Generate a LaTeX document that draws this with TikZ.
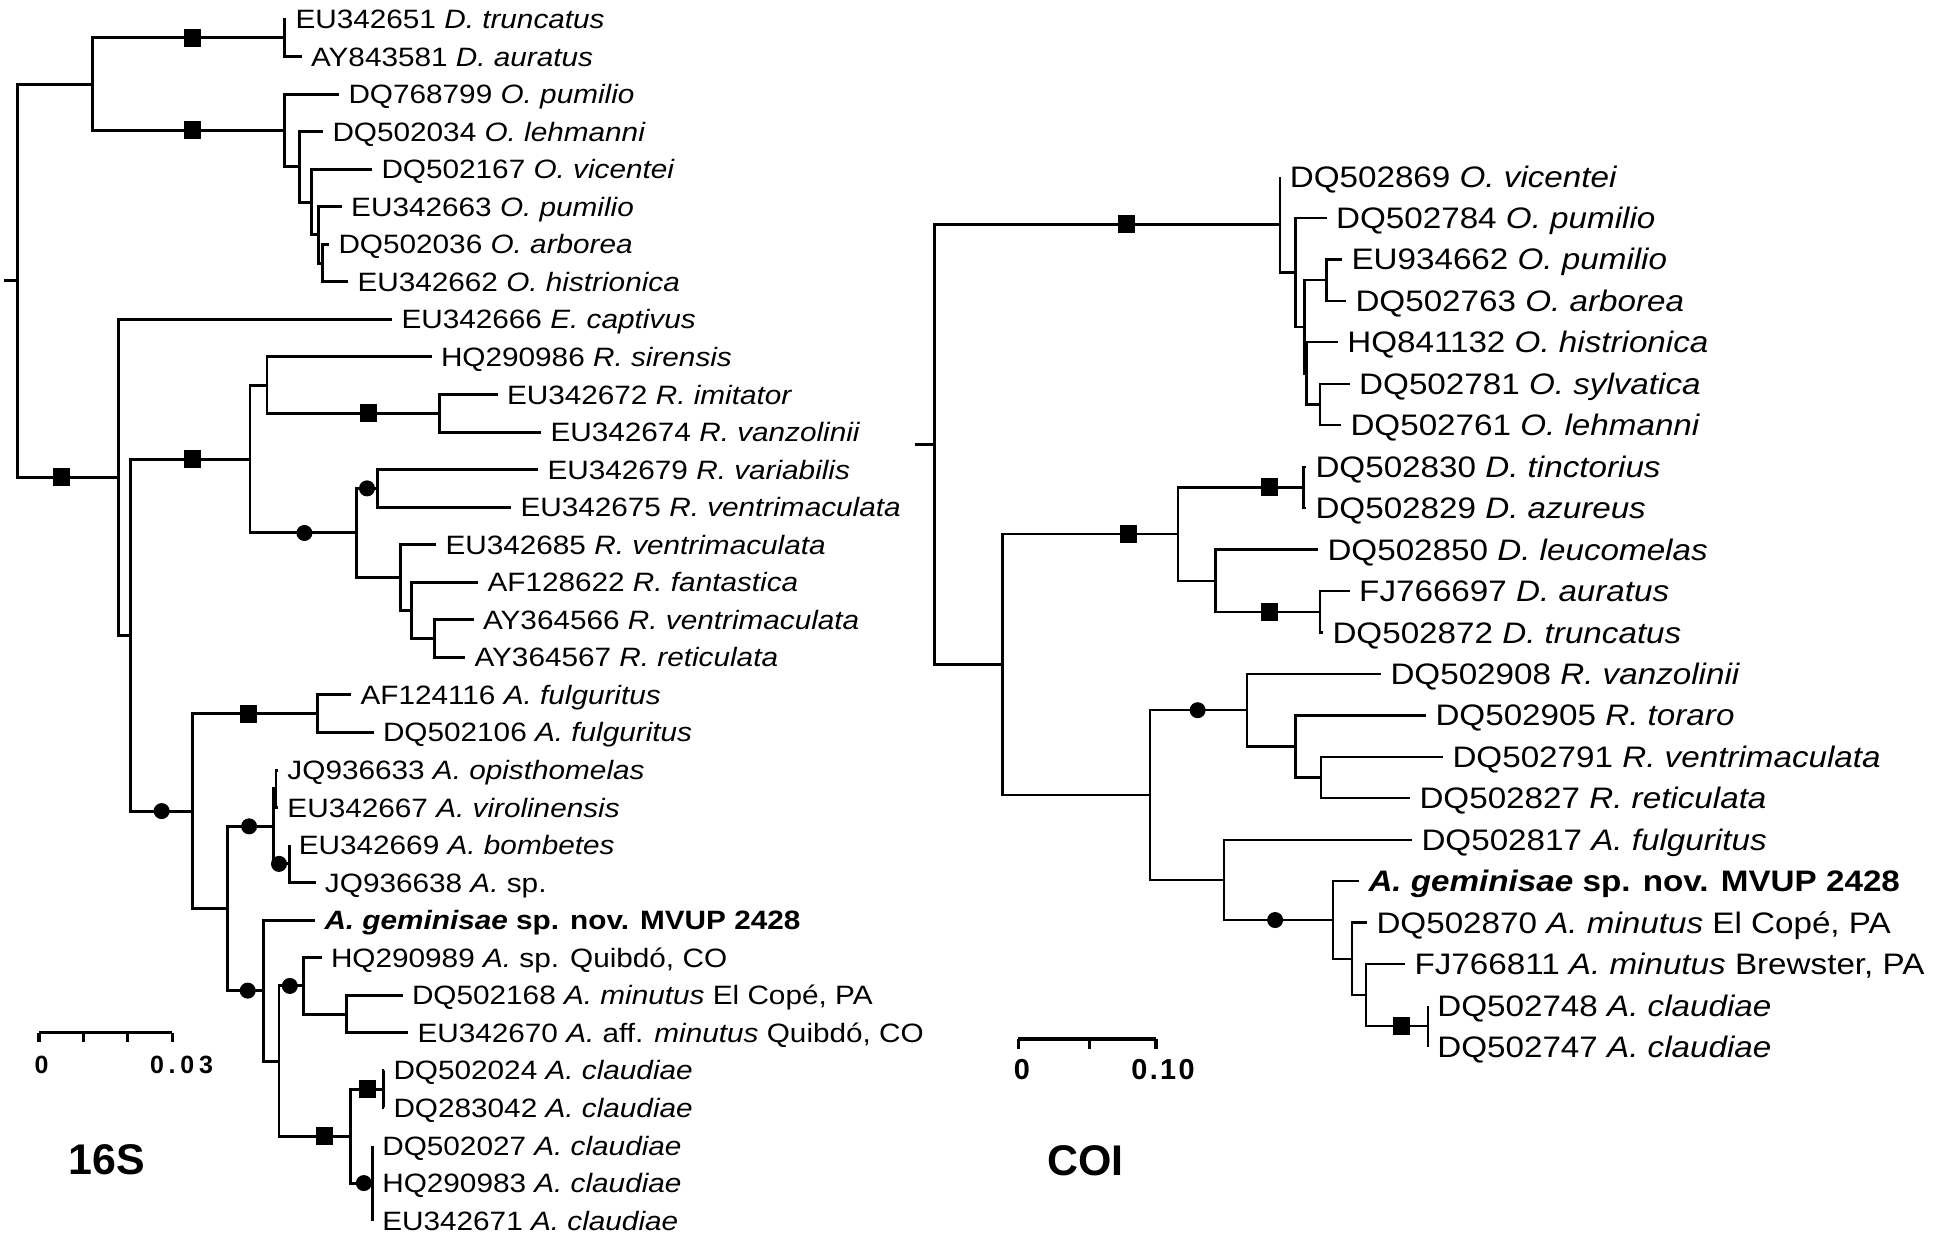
\documentclass[tikz,border=0pt]{standalone}
\usepackage{fontspec}
\setmainfont{Liberation Sans}
\newfontfamily\treefont{Liberation Sans}[FakeStretch=1.12]
\newfontfamily\barfontL{Liberation Sans}[LetterSpace=19]
\newfontfamily\barfontR{Liberation Sans}[LetterSpace=8]

\begin{document}
\begin{tikzpicture}[x=0.01cm, y=-0.01cm,
  taxL/.style={anchor=west, inner xsep=2.5pt, inner ysep=0pt, text height=5.4pt, text depth=0pt, font=\treefont\fontsize{7.55}{9}\selectfont},
  taxR/.style={taxL, text height=6pt, font=\treefont\fontsize{8.43}{10}\selectfont},
  sqm/.style={fill, rectangle, minimum width=0.17cm, minimum height=0.18cm, inner sep=0pt},
  dotm/.style={fill, circle, minimum size=0.16cm, inner sep=0pt},
  ttl/.style={inner sep=0pt, font=\bfseries\fontsize{12.2}{14}\selectfont}]
\useasboundingbox (0,0) rectangle (1937,1242);

% 16S
\begin{scope}[line width=0.85pt]
  \coordinate (rL) at (3.6,280.68);
  \coordinate (nR) at (17.9,280.68);
  \coordinate (nA) at (92.9,84.13);
  \coordinate (nDa) at (284.4,37.78);
  \coordinate (nOa) at (284.4,130.48);
  \coordinate (nOb) at (299.1,166.85);
  \coordinate (nOc) at (311.2,202.06);
  \coordinate (nOd) at (318.3,234.91);
  \coordinate (nOe) at (322.3,263.08);
  \coordinate (nB) at (118.3,477.23);
  \coordinate (nC) at (130.4,635.06);
  \coordinate (nD) at (250,459.04);
  \coordinate (nE) at (267,385.11);
  \coordinate (nF) at (439.7,413.28);
  \coordinate (nG) at (356.3,532.97);
  \coordinate (nH) at (377.2,488.38);
  \coordinate (nI) at (400.9,577.56);
  \coordinate (nJ) at (411.6,610.41);
  \coordinate (nK) at (434,638.58);
  \coordinate (nL) at (192.9,811.08);
  \coordinate (nM) at (317,713.68);
  \coordinate (nN) at (227.7,908.47);
  \coordinate (nO) at (273.2,826.33);
  \coordinate (nO2) at (276,788.78);
  \coordinate (nP) at (289.3,863.88);
  \coordinate (nQ) at (263.4,990.61);
  \coordinate (nT) at (279,1061.02);
  \coordinate (nS) at (303.6,985.92);
  \coordinate (nU) at (346,1014.08);
  \coordinate (nV) at (350.4,1136.12);
  \coordinate (nW) at (383,1089.18);
  \coordinate (nX) at (372.8,1183.05);

  \coordinate (l1) at (286,19);
  \coordinate (l2) at (301.5,56.55);
  \coordinate (l3) at (339,94.1);
  \coordinate (l4) at (323,131.65);
  \coordinate (l5) at (372,169.2);
  \coordinate (l6) at (341.7,206.75);
  \coordinate (l7) at (329,244.3);
  \coordinate (l8) at (348,281.85);
  \coordinate (l9) at (392,319.4);
  \coordinate (l10) at (431.5,356.95);
  \coordinate (l11) at (497.5,394.5);
  \coordinate (l12) at (541,432.05);
  \coordinate (l13) at (538,469.6);
  \coordinate (l14) at (511,507.15);
  \coordinate (l15) at (436,544.7);
  \coordinate (l16) at (478,582.25);
  \coordinate (l17) at (473.5,619.8);
  \coordinate (l18) at (465,657.35);
  \coordinate (l19) at (351,694.9);
  \coordinate (l20) at (373.5,732.45);
  \coordinate (l21) at (278,770);
  \coordinate (l22) at (278,807.55);
  \coordinate (l23) at (289.3,845.1);
  \coordinate (l24) at (315.5,882.65);
  \coordinate (l25) at (315,920.2);
  \coordinate (l26) at (321.5,957.75);
  \coordinate (l27) at (402.5,995.3);
  \coordinate (l28) at (408,1032.85);
  \coordinate (l29) at (384,1070.4);
  \coordinate (l30) at (384,1107.95);
  \coordinate (l31) at (372.8,1145.5);
  \coordinate (l32) at (372.8,1183.05);
  \coordinate (l33) at (372.8,1220.6);

  \draw (rL) -- (nR);
  \foreach \a/\b in {nR/nA, nDa/l1, nDa/l2, nOa/l3, nOa/nOb, nOb/l4, nOb/nOc, nOc/l5, nOc/nOd,
      nOd/l6, nOd/nOe, nOe/l7, nOe/l8, nB/l9, nB/nC, nD/nE, nE/l10, nF/l11, nF/l12, nG/nI,
      nH/l13, nH/l14, nI/l15, nI/nJ, nJ/l16, nJ/nK, nK/l17, nK/l18, nL/nN, nM/l19, nM/l20,
      nO/nO2, nO2/l21, nO2/l22, nP/l23, nP/l24, nQ/l25, nQ/nT, nS/l26, nS/nU, nU/l27, nU/l28,
      nW/l29, nW/l30, nX/l31, nX/l32, nX/l33}
    \draw (\a) |- (\b);
  \draw (nR) |- node[sqm, pos=.718] (q1) {} (nB);
  \draw (nA) |- node[sqm, pos=.761] (q2) {} (nDa);
  \draw (nA) |- node[sqm, pos=.761] (q3) {} (nOa);
  \draw (nC) |- node[sqm, pos=.761] (q4) {} (nD);
  \draw (nE) |- node[sqm, pos=.793] (q5) {} (nF);
  \draw (nL) |- node[sqm, pos=.723] (q6) {} (nM);
  \draw (nT) |- node[sqm, pos=.822] (q7) {} (nV);
  \draw (nV) |- node[sqm, pos=.755] (q8) {} (nW);
  \draw (nD) |- node[dotm, pos=.756] (c1) {} (nG);
  \draw (nG) |- node[dotm, pos=.756] (c2) {} (nH);
  \draw (nC) |- node[dotm, pos=.75] (c3) {} (nL);
  \draw (nN) |- node[dotm, pos=.735] (c4) {} (nO);
  \draw (nO) |- node[dotm, pos=.68] (c5) {} (nP);
  \draw (nN) |- node[dotm, pos=.78] (c6) {} (nQ);
  \draw (nT) |- node[dotm, pos=.72] (c7) {} (nS);
  \draw (nV) |- node[dotm, pos=.8] (c8) {} (nX);
\end{scope}

\node[taxL] (t1) at (l1) {EU342651 \textit{D. truncatus}};
\node[taxL] (t2) at (l2) {AY843581 \textit{D. auratus}};
\node[taxL] (t3) at (l3) {DQ768799 \textit{O. pumilio}};
\node[taxL] (t4) at (l4) {DQ502034 \textit{O. lehmanni}};
\node[taxL] (t5) at (l5) {DQ502167 \textit{O. vicentei}};
\node[taxL] (t6) at (l6) {EU342663 \textit{O. pumilio}};
\node[taxL] (t7) at (l7) {DQ502036 \textit{O. arborea}};
\node[taxL] (t8) at (l8) {EU342662 \textit{O. histrionica}};
\node[taxL] (t9) at (l9) {EU342666 \textit{E. captivus}};
\node[taxL] (t10) at (l10) {HQ290986 \textit{R. sirensis}};
\node[taxL] (t11) at (l11) {EU342672 \textit{R. imitator}};
\node[taxL] (t12) at (l12) {EU342674 \textit{R. vanzolinii}};
\node[taxL] (t13) at (l13) {EU342679 \textit{R. variabilis}};
\node[taxL] (t14) at (l14) {EU342675 \textit{R. ventrimaculata}};
\node[taxL] (t15) at (l15) {EU342685 \textit{R. ventrimaculata}};
\node[taxL] (t16) at (l16) {AF128622 \textit{R. fantastica}};
\node[taxL] (t17) at (l17) {AY364566 \textit{R. ventrimaculata}};
\node[taxL] (t18) at (l18) {AY364567 \textit{R. reticulata}};
\node[taxL] (t19) at (l19) {AF124116 \textit{A. fulguritus}};
\node[taxL] (t20) at (l20) {DQ502106 \textit{A. fulguritus}};
\node[taxL] (t21) at (l21) {JQ936633 \textit{A. opisthomelas}};
\node[taxL] (t22) at (l22) {EU342667 \textit{A. virolinensis}};
\node[taxL] (t23) at (l23) {EU342669 \textit{A. bombetes}};
\node[taxL] (t24) at (l24) {JQ936638 \textit{A.} sp.};
\node[taxL] (t25) at (l25) {\textbf{\textit{A. geminisae} sp. nov. MVUP 2428}};
\node[taxL] (t26) at (l26) {HQ290989 \textit{A.} sp. Quibdó, CO};
\node[taxL] (t27) at (l27) {DQ502168 \textit{A. minutus} El Copé, PA};
\node[taxL] (t28) at (l28) {EU342670 \textit{A.} aff. \textit{minutus} Quibdó, CO};
\node[taxL] (t29) at (l29) {DQ502024 \textit{A. claudiae}};
\node[taxL] (t30) at (l30) {DQ283042 \textit{A. claudiae}};
\node[taxL] (t31) at (l31) {DQ502027 \textit{A. claudiae}};
\node[taxL] (t32) at (l32) {HQ290983 \textit{A. claudiae}};
\node[taxL] (t33) at (l33) {EU342671 \textit{A. claudiae}};

\draw[line width=1pt] (39,1032.7) -- (172.3,1032.7);
\foreach \x in {39,83.3,127.7,172.3}
  \draw[line width=1pt] (\x,1032.7) -- (\x,1042.3);
\node[inner sep=0pt, font=\barfontL\bfseries\fontsize{7.1}{8}\selectfont] (sL0) at (41.5,1065) {0};
\node[inner sep=0pt, font=\barfontL\bfseries\fontsize{7.1}{8}\selectfont] (sL1) at (181.5,1065) {0.03};
\node[ttl] (g16) at (107,1160) {16S};

% COI
\begin{scope}[line width=0.65pt]
  \coordinate (rR) at (914.5,444.48);
  \coordinate (mRoot) at (934.4,444.48);
  \coordinate (mO) at (1280.3,224.43);
  \coordinate (mOa) at (1295.5,272.36);
  \coordinate (mOb) at (1304.5,326.76);
  \coordinate (mOc) at (1326.6,280.13);
  \coordinate (mOd) at (1306.5,373.39);
  \coordinate (mOe) at (1320,404.48);
  \coordinate (mB) at (1002.5,664.52);
  \coordinate (mD) at (1177.8,534.01);
  \coordinate (mD1) at (1303.4,487.38);
  \coordinate (mD2) at (1215.5,580.64);
  \coordinate (mD3) at (1320,611.73);
  \coordinate (mRA) at (1150,795.02);
  \coordinate (mR) at (1247.2,710.17);
  \coordinate (mR2) at (1295.5,746.44);
  \coordinate (mR3) at (1321.3,777.53);
  \coordinate (mA) at (1224,879.86);
  \coordinate (mA2) at (1333.2,920.01);
  \coordinate (mA3) at (1351.7,958.87);
  \coordinate (mA4) at (1366.3,995.14);
  \coordinate (mA5) at (1427.8,1026.23);

  \coordinate (k1) at (1280.3,176.5);
  \coordinate (k2) at (1326.6,217.95);
  \coordinate (k3) at (1342,259.4);
  \coordinate (k4) at (1346,300.85);
  \coordinate (k5) at (1337.8,342.3);
  \coordinate (k6) at (1349.7,383.75);
  \coordinate (k7) at (1341,425.2);
  \coordinate (k8) at (1306,466.65);
  \coordinate (k9) at (1306,508.1);
  \coordinate (k10) at (1318,549.55);
  \coordinate (k11) at (1349.7,591);
  \coordinate (k12) at (1323,632.45);
  \coordinate (k13) at (1381,673.9);
  \coordinate (k14) at (1426,715.35);
  \coordinate (k15) at (1443,756.8);
  \coordinate (k16) at (1410,798.25);
  \coordinate (k17) at (1412,839.7);
  \coordinate (k18) at (1359,881.15);
  \coordinate (k19) at (1367,922.6);
  \coordinate (k20) at (1405,964.05);
  \coordinate (k21) at (1427.8,1005.5);
  \coordinate (k22) at (1427.8,1046.95);

  \draw (rR) -- (mRoot);
  \foreach \a/\b in {mRoot/mB, mO/k1, mO/mOa, mOa/k2, mOa/mOb, mOb/mOc, mOb/mOd, mOc/k3, mOc/k4,
      mOd/k5, mOd/mOe, mOe/k6, mOe/k7, mB/mRA, mD1/k8, mD1/k9, mD/mD2, mD2/k10, mD3/k11, mD3/k12,
      mR/k13, mR/mR2, mR2/k14, mR2/mR3, mR3/k15, mR3/k16, mRA/mA, mA/k17, mA2/k18, mA2/mA3,
      mA3/k19, mA3/mA4, mA4/k20, mA5/k21, mA5/k22}
    \draw (\a) |- (\b);
  \draw (mRoot) |- node[sqm, pos=.778] (p1) {} (mO);
  \draw (mB) |- node[sqm, pos=.859] (p2) {} (mD);
  \draw (mD) |- node[sqm, pos=.863] (p3) {} (mD1);
  \draw (mD2) |- node[sqm, pos=.756] (p4) {} (mD3);
  \draw (mA4) |- node[sqm, pos=.785] (p5) {} (mA5);
  \draw (mRA) |- node[dotm, pos=.745] (d1) {} (mR);
  \draw (mA) |- node[dotm, pos=.734] (d2) {} (mA2);
\end{scope}

\node[taxR] (u1) at (k1) {DQ502869 \textit{O. vicentei}};
\node[taxR] (u2) at (k2) {DQ502784 \textit{O. pumilio}};
\node[taxR] (u3) at (k3) {EU934662 \textit{O. pumilio}};
\node[taxR] (u4) at (k4) {DQ502763 \textit{O. arborea}};
\node[taxR] (u5) at (k5) {HQ841132 \textit{O. histrionica}};
\node[taxR] (u6) at (k6) {DQ502781 \textit{O. sylvatica}};
\node[taxR] (u7) at (k7) {DQ502761 \textit{O. lehmanni}};
\node[taxR] (u8) at (k8) {DQ502830 \textit{D. tinctorius}};
\node[taxR] (u9) at (k9) {DQ502829 \textit{D. azureus}};
\node[taxR] (u10) at (k10) {DQ502850 \textit{D. leucomelas}};
\node[taxR] (u11) at (k11) {FJ766697 \textit{D. auratus}};
\node[taxR] (u12) at (k12) {DQ502872 \textit{D. truncatus}};
\node[taxR] (u13) at (k13) {DQ502908 \textit{R. vanzolinii}};
\node[taxR] (u14) at (k14) {DQ502905 \textit{R. toraro}};
\node[taxR] (u15) at (k15) {DQ502791 \textit{R. ventrimaculata}};
\node[taxR] (u16) at (k16) {DQ502827 \textit{R. reticulata}};
\node[taxR] (u17) at (k17) {DQ502817 \textit{A. fulguritus}};
\node[taxR] (u18) at (k18) {\textbf{\textit{A. geminisae} sp. nov. MVUP 2428}};
\node[taxR] (u19) at (k19) {DQ502870 \textit{A. minutus} El Copé, PA};
\node[taxR] (u20) at (k20) {FJ766811 \textit{A. minutus} Brewster, PA};
\node[taxR] (u21) at (k21) {DQ502748 \textit{A. claudiae}};
\node[taxR] (u22) at (k22) {DQ502747 \textit{A. claudiae}};

\draw[line width=1pt] (1018.3,1039) -- (1156,1039);
\foreach \x in {1018.3,1089.3,1156}
  \draw[line width=1pt] (\x,1039) -- (\x,1049);
\node[inner sep=0pt, font=\barfontR\bfseries\fontsize{8.2}{10}\selectfont] (sR0) at (1022,1069.7) {0};
\node[inner sep=0pt, font=\barfontR\bfseries\fontsize{8.2}{10}\selectfont] (sR1) at (1163,1069.7) {0.10};
\node[ttl] (gCO) at (1085.5,1161) {COI};
\end{tikzpicture}
\end{document}
